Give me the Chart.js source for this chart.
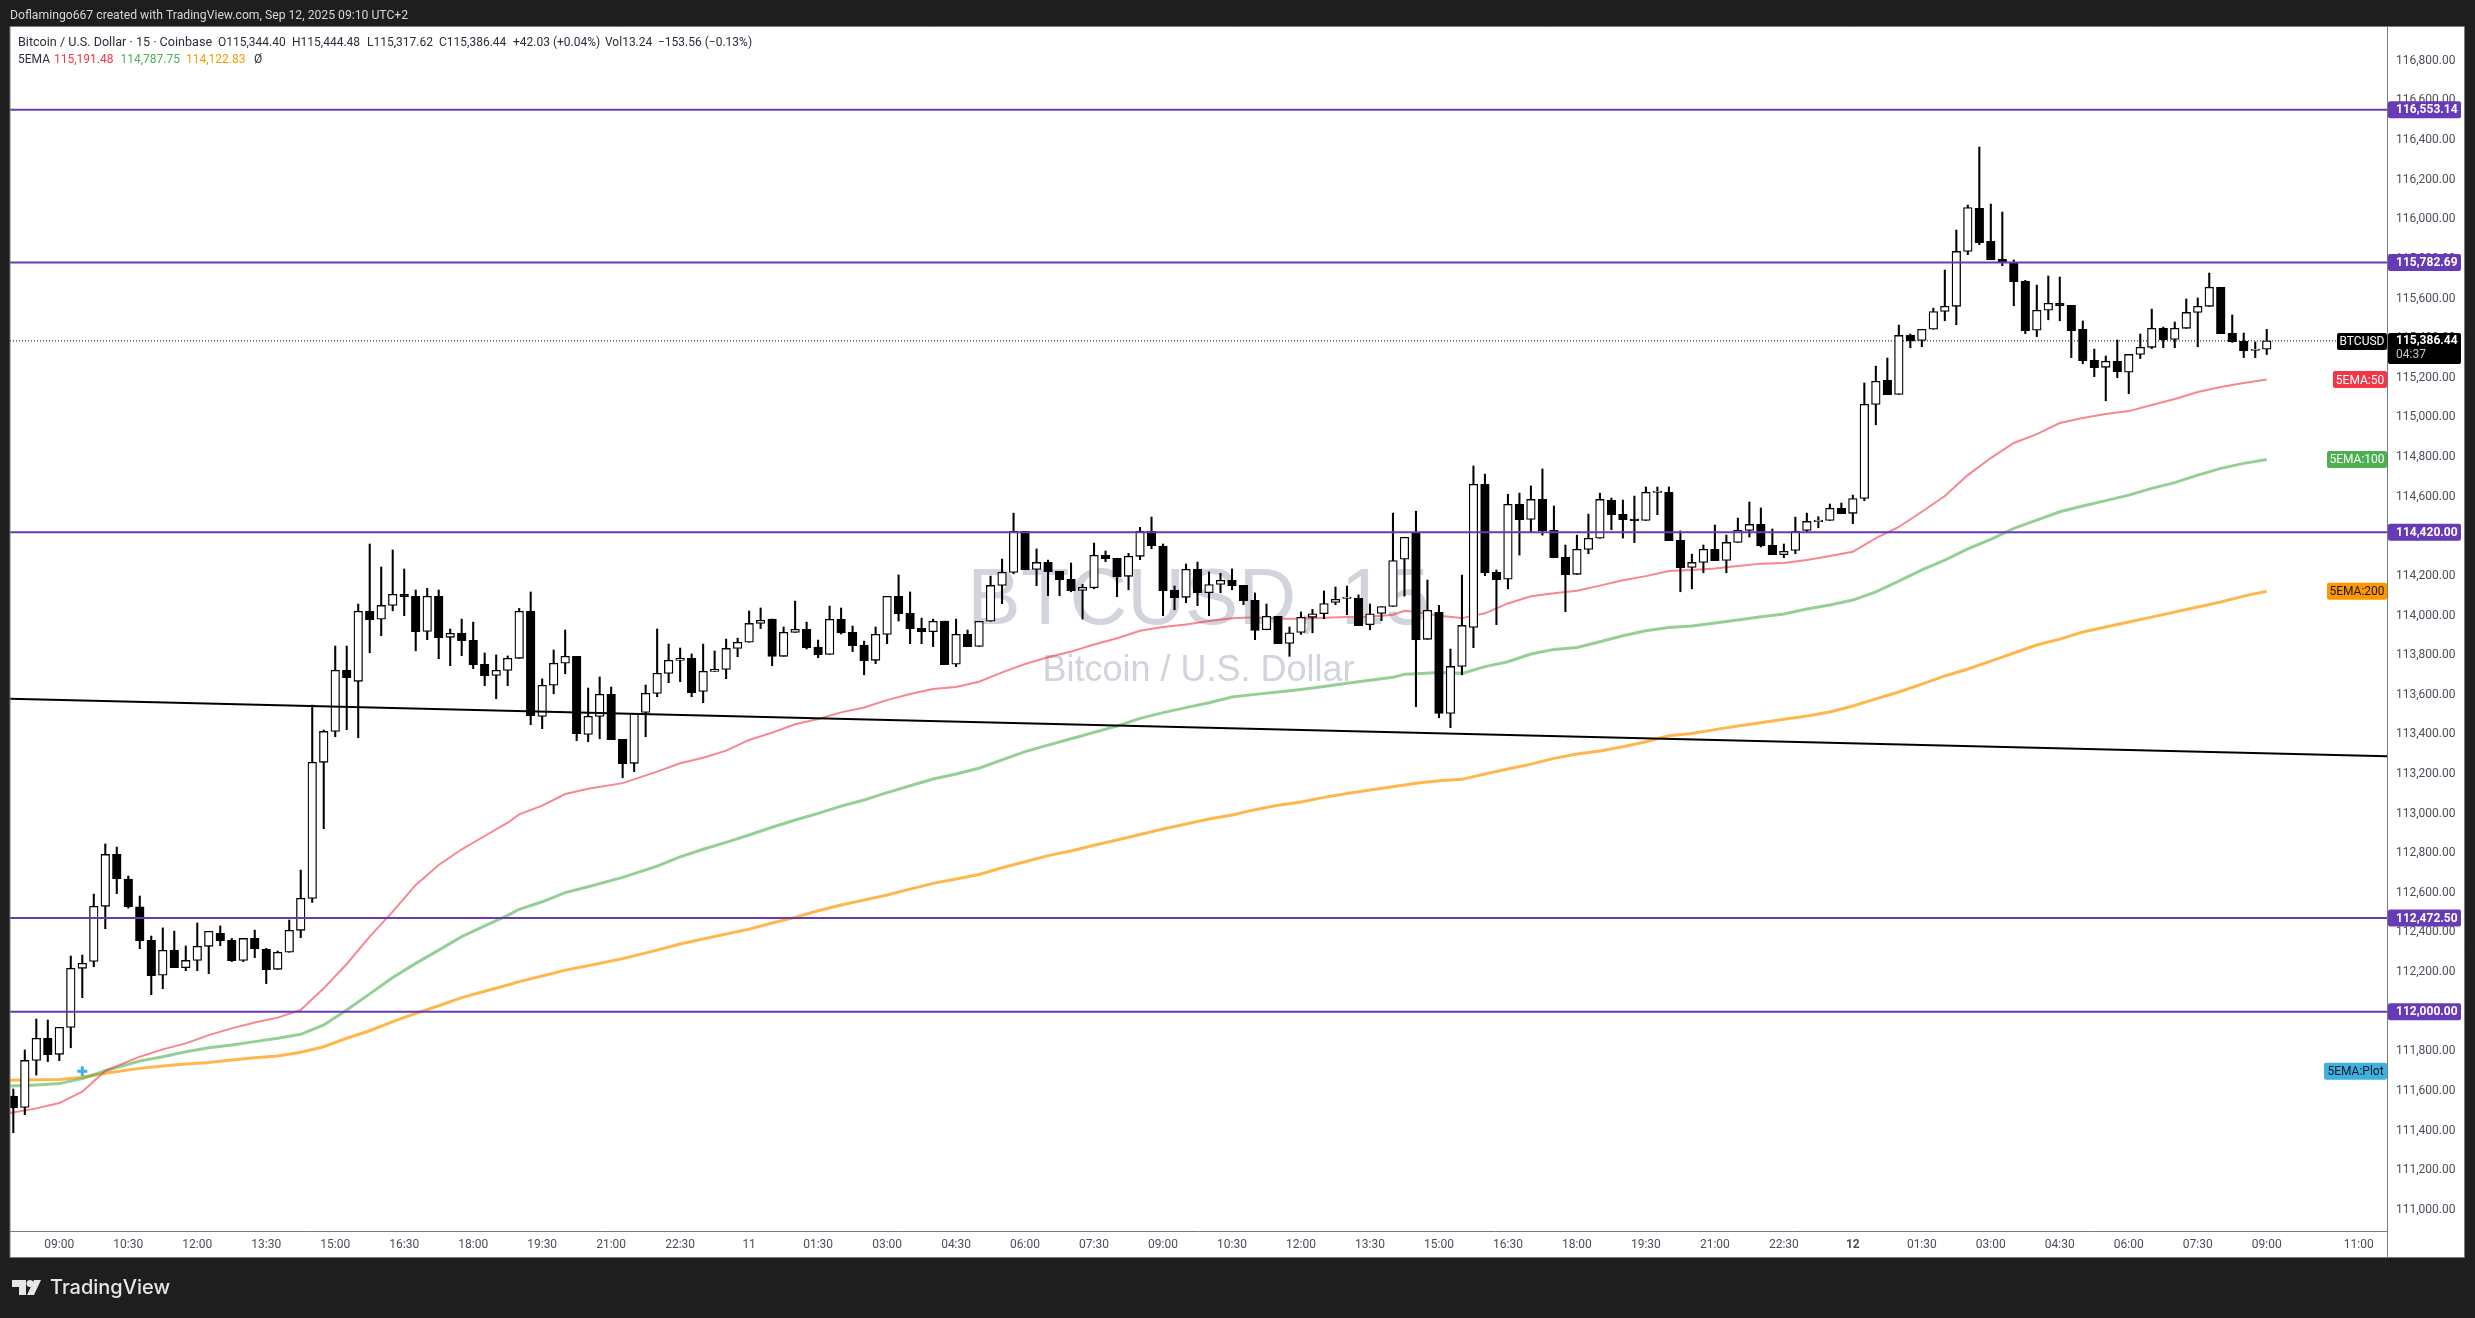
<!DOCTYPE html>
<html>
<head>
<meta charset="utf-8">
<title>BTCUSD 15</title>
<script src="https://cdn.jsdelivr.net/npm/chart.js@4"></script>
<style>
  html, body { margin: 0; padding: 0; background: #1e1e1e; overflow: hidden; }
  canvas { display: block; }
</style>
</head>
<body>
<canvas id="chartBtc" width="2475" height="1318"></canvas>
<script>
// === Candles, bar -4 to bar 192 (bar 0 = 09:00 on the 10th) ===
const firstBar = -4;
const opens = [
  111574,111517,111754,111866,111785,111921,112219,112254,112532,112794,
  112670,112529,112360,112184,112310,112222,112259,112330,112396,112360,
  112259,112370,112315,112214,112300,112411,112572,113259,113415,113723,
  113668,114021,113981,114051,114107,114097,113920,114097,113890,113910,
  113875,113754,113698,113723,113784,114021,113491,113648,113759,113794,
  113400,113491,113602,113375,113254,113511,113607,113708,113774,113784,
  113617,113718,113728,113834,113865,113960,113982,113794,113915,113930,
  113841,113804,113981,113915,113851,113774,113905,114097,114011,113935,
  113918,113972,113754,113905,113844,113971,114152,114218,114425,114233,
  114268,114223,114183,114127,114140,114304,114289,114198,114299,114425,
  114351,114127,114092,114233,114115,114157,114178,114152,114077,113928,
  113996,113859,113915,113991,114009,114066,114086,114087,113954,114011,
  114046,114284,114415,113880,114016,113506,113743,113940,114662,114218,
  114183,114561,114485,114586,114430,114294,114208,114334,114390,114581,
  114511,114485,114480,114621,114622,114379,114243,114268,114334,114278,
  114369,114430,114460,114354,114307,114329,114430,114474,114480,114541,
  114516,114591,115066,115187,115116,115414,115389,115445,115535,115561,
  115838,116055,115889,115798,115783,115687,115440,115541,115576,115566,
  115445,115288,115253,115283,115228,115318,115354,115450,115394,115450,
  115530,115561,115657,115424,115384,115338,115344.40
];
const highs = [
  111610,111807,111963,111958,111921,112281,112286,112594,112847,112831,
  112685,112584,112382,112423,112407,112332,112448,112406,112433,112370,
  112370,112412,112320,112306,112463,112715,113548,113422,113846,113846,
  114058,114361,114245,114331,114235,114129,114137,114129,113932,113982,
  113967,113811,113801,113796,114036,114119,113680,113826,113927,113794,
  113634,113690,113639,113375,113505,113649,113932,113856,113836,113806,
  113856,113821,113881,113886,114023,114038,113982,113942,114073,113967,
  113876,114048,114038,113947,113871,113942,114097,114205,114119,113987,
  113982,113972,113982,113927,113971,114199,114285,114517,114425,114336,
  114280,114223,114265,114157,114366,114326,114289,114314,114445,114497,
  114361,114149,114260,114270,114220,114213,114235,114152,114114,114058,
  113996,113942,114018,114031,114124,114144,114149,114104,114058,114045,
  114517,114395,114527,114179,114051,113831,114204,114755,114714,114230,
  114612,114618,114654,114740,114553,114356,114406,114512,114618,114593,
  114583,114603,114649,114649,114649,114427,114310,114356,114457,114406,
  114492,114573,114543,114437,114361,114497,114517,114499,114563,114568,
  114608,115174,115259,115300,115466,115421,115445,115552,115744,115946,
  116072,116365,116077,116037,115795,115692,115668,115714,115709,115566,
  115487,115345,115310,115391,115318,115421,115547,115456,115482,115598,
  115603,115729,115657,115517,115426,115381,115444.48
];
const lows = [
  111389,111480,111680,111748,111753,111818,112071,112227,112419,112596,
  112523,112318,112086,112116,112222,112207,112207,112192,112333,112253,
  112253,112273,112142,112214,112300,112374,112552,112924,113388,113424,
  113383,113812,113898,114024,113999,113822,113878,113782,113747,113797,
  113732,113646,113580,113646,113784,113449,113429,113605,113706,113368,
  113363,113378,113373,113181,113212,113388,113590,113661,113666,113590,
  113560,113718,113681,113792,113865,113934,113747,113794,113915,113831,
  113787,113804,113907,113818,113701,113757,113858,113972,113858,113858,
  113843,113752,113742,113843,113844,113971,114060,114211,114231,114151,
  114100,114100,114120,113982,114135,114272,114095,114130,114282,114337,
  113999,114029,114065,114050,113999,114115,114130,114055,113878,113928,
  113858,113794,113905,113913,113984,114055,114004,113949,113928,113974,
  114046,114098,113540,113880,113484,113434,113701,113838,114201,113954,
  114135,114305,114418,114406,114292,114019,114208,114312,114390,114433,
  114391,114368,114480,114509,114378,114120,114135,114216,114277,114216,
  114369,114396,114346,114307,114292,114312,114423,114443,114480,114514,
  114464,114580,114963,115115,115116,115352,115357,115445,115488,115468,
  115822,115872,115796,115766,115564,115423,115408,115493,115488,115302,
  115271,115206,115084,115201,115120,115297,115347,115352,115352,115450,
  115357,115561,115423,115379,115302,115302,115317.62
];
const closes = [
  111515,111754,111866,111783,111921,112219,112244,112532,112794,112672,
  112530,112359,112182,112310,112222,112259,112330,112406,112359,112258,
  112370,112318,112212,112300,112411,112572,113259,113415,113723,113686,
  114021,113979,114051,114107,114095,113918,114097,113888,113910,113873,
  113752,113696,113723,113784,114021,113494,113648,113759,113794,113404,
  113491,113602,113373,113252,113505,113607,113708,113774,113784,113611,
  113718,113728,113834,113865,113960,113976,113794,113915,113930,113838,
  113802,113981,113912,113848,113772,113905,114097,114009,113934,113918,
  113971,113752,113905,113843,113971,114152,114218,114425,114231,114268,
  114221,114181,114125,114142,114304,114287,114196,114299,114425,114353,
  114125,114090,114233,114115,114156,114178,114151,114075,113925,113996,
  113858,113913,113991,114009,114060,114082,114087,113949,114009,114045,
  114278,114395,113878,114026,113506,113743,113950,114662,114216,114181,
  114561,114484,114586,114428,114292,114206,114334,114390,114586,114509,
  114484,114479,114622,114622,114378,114241,114268,114334,114277,114369,
  114430,114460,114351,114307,114324,114425,114475,114475,114541,114514,
  114591,115066,115182,115115,115414,115386,115445,115535,115561,115838,
  116060,115882,115796,115783,115685,115438,115541,115576,115564,115438,
  115286,115251,115283,115231,115318,115354,115450,115392,115450,115530,
  115561,115657,115423,115382,115337,115339,115386.44
];

// === EMA lines, read at these bars ===
const emaBars = [
  -5,-2,0,2,4,7,9,11,13,15,17,19,21,23,25,27,29,31,33,35,37,39,40,42,44,46,49,52,
  54,56,58,60,62,64,66,68,70,72,74,76,78,80,82,84,86,88,90,92,94,96,98,100,102,104,106,108,110,112,114,116,117,
  118,120,122,124,126,128,130,132,134,136,138,140,142,144,146,148,150,152,154,156,158,160,162,164,166,168,170,172,174,176,178,180,182,184,186,188,190,192
];
const ema50 = [
  111482,111512,111539,111596,111702,111773,111810,111840,111882,111916,111946,111970,112009,112118,112241,112379,112505,112640,112741,112820,112887,112954,112996,113040,113099,113126,113154,113212,
  113254,113282,113318,113372,113409,113451,113478,113511,113536,113573,113604,113629,113639,113666,113713,113755,113789,113818,113854,113885,113923,113942,113955,113972,113986,113991,113984,113984,113989,113992,113994,114004,114024,
  114019,113999,113987,114011,114061,114097,114112,114125,114151,114178,114199,114225,114230,114238,114250,114262,114265,114280,114300,114322,114391,114447,114524,114603,114709,114795,114871,114916,114972,114997,115017,115032,115063,115093,115128,115154,115174,115191.48
];
const ema100 = [
  111623,111630,111637,111662,111702,111751,111773,111798,111818,111832,111849,111866,111886,111933,112009,112090,112173,112244,112311,112379,112433,112486,112517,112555,112601,112631,112678,112735,
  112782,112820,112855,112892,112931,112968,113001,113038,113069,113106,113141,113175,113200,113229,113271,113313,113346,113378,113410,113442,113481,113510,113535,113560,113589,113602,113614,113627,113642,113658,113673,113688,113703,
  113706,113713,113708,113742,113767,113806,113829,113839,113868,113898,113923,113940,113947,113962,113977,113994,114008,114033,114053,114078,114119,114174,114230,114280,114336,114384,114440,114482,114524,114553,114580,114608,114642,114671,114709,114743,114768,114787.75
];
const ema200 = [
  111653,111657,111658,111669,111689,111714,111726,111736,111744,111756,111768,111776,111795,111823,111866,111904,111950,111992,112030,112071,112103,112135,112152,112180,112210,112232,112268,112311,
  112342,112367,112392,112417,112448,112476,112510,112539,112564,112589,112619,112648,112670,112693,112727,112757,112788,112811,112840,112867,112895,112922,112948,112973,112993,113020,113042,113059,113082,113102,113119,113136,113144,
  113153,113166,113173,113200,113225,113250,113279,113301,113316,113338,113363,113393,113405,113424,113442,113459,113476,113493,113513,113543,113579,113614,113654,113695,113730,113770,113811,113851,113881,113917,113942,113967,113992,114018,114043,114068,114098,114122.83
];

// === Drawn levels ===
const levels = [116553.14, 115782.69, 114420.00, 112472.50, 112000.00];
const trendLine = [113580, 113289];
const lastPrice = 115386.44;
const plotMark = [2, 111700];

// === Axes ===
const priceTicks = [
  111000,111200,111400,111600,111800,112000,112200,112400,112600,112800,113000,113200,113400,113600,113800,
  114000,114200,114400,114600,114800,115000,115200,115400,115600,115800,116000,116200,116400,116600,116800
];
const timeBars = [0,6,12,18,24,30,36,42,48,54,60,66,72,78,84,90,96,102,108,114,120,126,132,138,144,150,156,162,168,174,180,186,192,200];
const timeLabels = [
  "09:00","10:30","12:00","13:30","15:00","16:30","18:00","19:30","21:00","22:30","11",
  "01:30","03:00","04:30","06:00","07:30","09:00","10:30","12:00","13:30","15:00","16:30",
  "18:00","19:30","21:00","22:30","12","01:30","03:00","04:30","06:00","07:30","09:00","11:00"
];

const xMin = -4.288, xMax = 202.46;
const uiFont = "Roboto, sans-serif";
const purple = "#673ab7";

const fmtPrice = (v) => v.toLocaleString("en-US", { minimumFractionDigits: 2, maximumFractionDigits: 2 });
const bars = opens.map((_, i) => i + firstBar);

function roundTag(c, x, y, w, h, color) {
  c.fillStyle = color;
  c.beginPath();
  c.roundRect(x, y, w, h, 2);
  c.fill();
}

function putText(c, text, x, y, color, font, align) {
  c.font = font;
  c.fillStyle = color;
  c.textAlign = align || "left";
  c.textBaseline = "middle";
  c.fillText(text, x, y);
}

// white panel and frame, under everything
const panelPlugin = {
  id: "panel",
  beforeDraw(chart) {
    const c = chart.ctx, a = chart.chartArea;
    c.save();
    c.fillStyle = "#1e1e1e";
    c.fillRect(0, 0, chart.width, chart.height);
    c.fillStyle = "#ffffff";
    c.fillRect(a.left, a.top, 2464 - a.left, 1257 - a.top);
    c.restore();
  },
  beforeDatasetsDraw(chart) {
    // watermark sits behind the candles
    const c = chart.ctx, a = chart.chartArea;
    const mid = (a.left + a.right) / 2;
    c.save();
    putText(c, "BTCUSD, 15", mid, 602, "#d1d4dc", "80px 'Liberation Sans'", "center");
    putText(c, "Bitcoin / U.S. Dollar", mid, 671, "#d1d4dc", "36px 'Liberation Sans'", "center");
    c.restore();
  },
  afterDraw(chart) {
    const c = chart.ctx, a = chart.chartArea, y = chart.scales.y;
    c.save();

    // frame
    c.strokeStyle = "#787b86";
    c.lineWidth = 1;
    c.beginPath();
    c.moveTo(a.left, 1257.5); c.lineTo(2464.5, 1257.5); c.lineTo(2464.5, a.top - 0.5); c.lineTo(a.left, a.top - 0.5); c.closePath();
    c.moveTo(a.left, a.bottom + 0.5); c.lineTo(a.right, a.bottom + 0.5);
    c.moveTo(a.right + 0.5, a.top); c.lineTo(a.right + 0.5, 1257);
    c.stroke();

    // header
    putText(c, "Doflamingo667 created with TradingView.com, Sep 12, 2025 09:10 UTC+2", 10, 16, "#d6d6d6", "12.2px " + uiFont);
    putText(c, "Bitcoin / U.S. Dollar · 15 · Coinbase", 18, 43, "#2a2e39", "12.6px " + uiFont);
    const rowOne = [
      ["O115,344.40", 218], ["H115,444.48", 292],
      ["L115,317.62", 367], ["C115,386.44", 439], ["+42.03 (+0.04%)", 513], ["Vol13.24", 605], ["−153.56 (−0.13%)", 658]
    ];
    rowOne.forEach((t) => putText(c, t[0], t[1], 43, "#2a2e39", "12px " + uiFont));
    putText(c, "5EMA", 18, 60, "#2a2e39", "12px " + uiFont);
    putText(c, "115,191.48", 54, 60, "#f23645", "12px " + uiFont);
    putText(c, "114,787.75", 120.5, 60, "#4caf50", "12px " + uiFont);
    putText(c, "114,122.83", 186, 60, "#ff9800", "12px " + uiFont);
    putText(c, "Ø", 254, 60, "#2a2e39", "12px " + uiFont);

    // price tags on the axis
    const bold = "bold 12px " + uiFont;
    levels.forEach((v) => {
      const py = y.getPixelForValue(v);
      roundTag(c, a.right + 1, py - 8.5, 73, 17, purple);
      putText(c, fmtPrice(v), a.right + 9, py + 0.5, "#ffffff", bold);
    });
    const lastY = y.getPixelForValue(lastPrice);
    roundTag(c, a.right + 1, lastY - 8, 73, 31, "#000000");
    putText(c, fmtPrice(lastPrice), a.right + 9, lastY + 0.5, "#ffffff", bold);
    putText(c, "04:37", a.right + 9, lastY + 14, "#c8c8c8", "12px " + uiFont);
    roundTag(c, 2337, lastY - 8, 50, 17, "#000000");
    putText(c, "BTCUSD", 2362, lastY + 1, "#ffffff", "12px " + uiFont, "center");

    // indicator tags
    const emaTags = [
      ["5EMA:50", ema50[ema50.length - 1], 2333, "#f23645", "#ffffff"],
      ["5EMA:100", ema100[ema100.length - 1], 2327, "#4caf50", "#ffffff"],
      ["5EMA:200", ema200[ema200.length - 1], 2327, "#ff9800", "#131722"],
      ["5EMA:Plot", plotMark[1], 2324, "#3eb1e0", "#131722"]
    ];
    emaTags.forEach((t) => {
      const py = y.getPixelForValue(t[1]);
      roundTag(c, t[2], py - 8.5, 2387 - t[2], 17, t[3]);
      putText(c, t[0], (t[2] + 2387) / 2, py + 1, t[4], "12px " + uiFont, "center");
    });

    // TradingView logo, bottom left
    c.fillStyle = "#e6e6e6";
    c.fillRect(12, 1280, 14, 7);
    c.fillRect(19, 1280, 7, 15);
    c.beginPath(); c.arc(30, 1283.5, 3.5, 0, Math.PI * 2); c.fill();
    c.beginPath(); c.moveTo(34, 1280); c.lineTo(41, 1280); c.lineTo(34, 1295); c.lineTo(27, 1295); c.closePath(); c.fill();
    putText(c, "TradingView", 50, 1288, "#e6e6e6", "500 20px Inter, sans-serif");
    c.restore();
  }
};

const straight = { pointRadius: 0, tension: 0, fill: false, parsing: true };

new Chart(document.getElementById("chartBtc"), {
  type: "bar",
  plugins: [panelPlugin],
  data: {
    datasets: [
      // EMAs under the candles
      { type: "line", label: "5EMA:50", order: 9, borderColor: "rgba(242,54,69,0.6)", borderWidth: 2, ...straight,
        data: emaBars.map((b, i) => ({ x: b, y: ema50[i] })) },
      { type: "line", label: "5EMA:100", order: 9, borderColor: "rgba(76,175,80,0.6)", borderWidth: 3, ...straight,
        data: emaBars.map((b, i) => ({ x: b, y: ema100[i] })) },
      { type: "line", label: "5EMA:200", order: 9, borderColor: "rgba(255,152,0,0.7)", borderWidth: 3, ...straight,
        data: emaBars.map((b, i) => ({ x: b, y: ema200[i] })) },
      // last price, dotted
      { type: "line", label: "Last", order: 8, borderColor: "#000000", borderWidth: 1, borderDash: [1, 2], ...straight,
        data: [{ x: xMin, y: lastPrice }, { x: xMax, y: lastPrice }] },
      // wicks and bodies
      { label: "Wicks", order: 6, grouped: false, barThickness: 1.4, backgroundColor: "#000000",
        data: bars.map((b, i) => ({ x: b, y: [lows[i], highs[i]] })) },
      { label: "Bodies", order: 5, grouped: false, barThickness: 8.6, minBarLength: 1.5, borderSkipped: false,
        borderWidth: 1.3, borderColor: "#000000",
        backgroundColor: bars.map((b, i) => (closes[i] >= opens[i] ? "#ffffff" : "#000000")),
        data: bars.map((b, i) => ({ x: b, y: [opens[i], closes[i]] })) },
      // drawings on top
      ...levels.map((v) => ({ type: "line", label: "Level " + v, order: 3, borderColor: purple, borderWidth: 2, ...straight,
        data: [{ x: xMin, y: v }, { x: xMax, y: v }] })),
      { type: "line", label: "Trend", order: 2, borderColor: "#000000", borderWidth: 2, ...straight,
        data: [{ x: xMin, y: trendLine[0] }, { x: xMax, y: trendLine[1] }] },
      { type: "line", label: "5EMA:Plot", order: 1, showLine: false, pointStyle: "cross", pointRadius: 5,
        pointBorderColor: "#3eb1e0", pointBorderWidth: 3,
        data: [{ x: plotMark[0], y: plotMark[1] }] }
    ]
  },
  options: {
    responsive: false,
    animation: false,
    devicePixelRatio: 1,
    events: [],
    layout: { padding: { left: 10, top: 27, right: 11, bottom: 61 } },
    plugins: { legend: { display: false }, tooltip: { enabled: false } },
    scales: {
      x: {
        type: "linear",
        min: xMin,
        max: xMax,
        offset: false,
        grid: { display: false, drawTicks: false },
        border: { display: false },
        afterBuildTicks: (scale) => { scale.ticks = timeBars.map((v) => ({ value: v })); },
        afterFit: (scale) => { scale.height = 26; },
        ticks: {
          autoSkip: false,
          maxRotation: 0,
          padding: 7,
          color: "#4a4e59",
          font: (ctx) => ({ family: uiFont, size: 12, weight: ctx.tick && ctx.tick.value === 156 ? "bold" : "normal" }),
          callback: (v, i) => timeLabels[i]
        }
      },
      y: {
        position: "right",
        min: 110893,
        max: 116971,
        grid: { display: false, drawTicks: false },
        border: { display: false },
        afterBuildTicks: (scale) => { scale.ticks = priceTicks.map((v) => ({ value: v })); },
        afterFit: (scale) => { scale.width = 77; },
        ticks: {
          padding: 9,
          color: "#4a4e59",
          font: { family: uiFont, size: 12 },
          callback: (v) => fmtPrice(v)
        }
      }
    }
  }
});
</script>
</body>
</html>
